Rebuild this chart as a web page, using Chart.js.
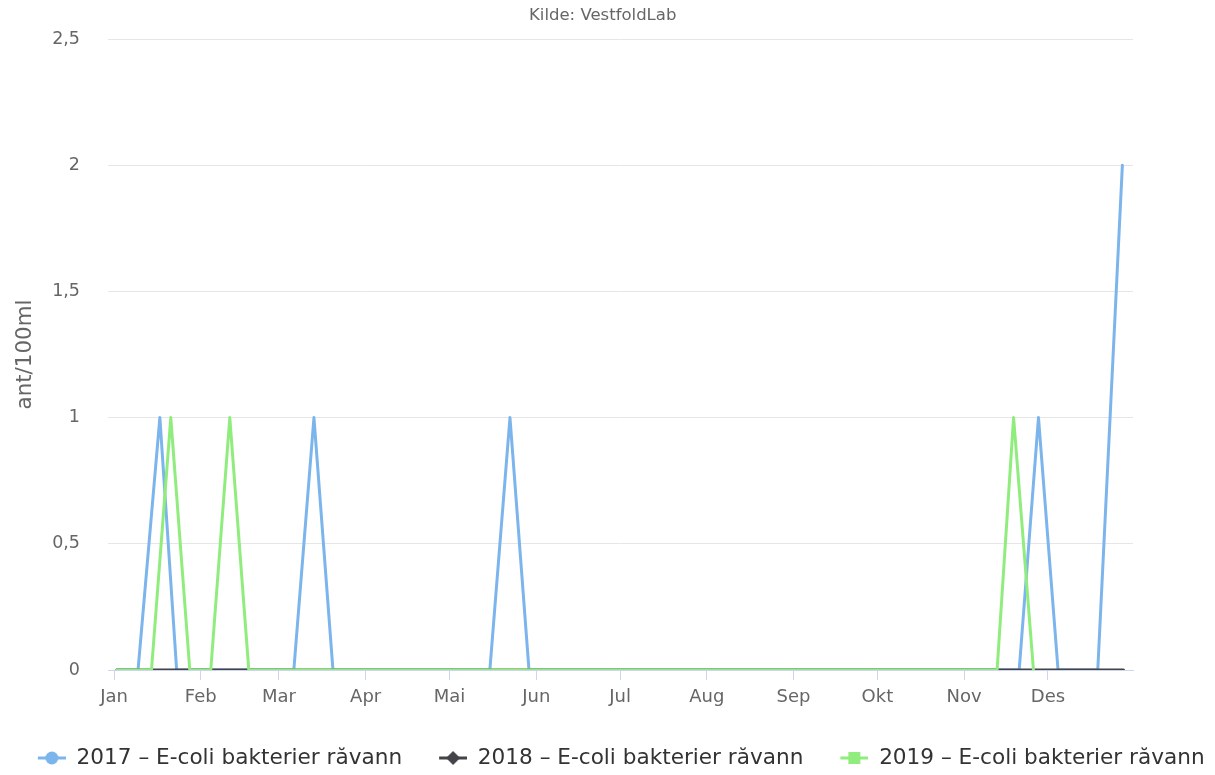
<!DOCTYPE html>
<html>
<head>
<meta charset="utf-8">
<script src="https://cdn.jsdelivr.net/npm/chart.js@4"></script>
<style>
  html, body { margin: 0; padding: 0; background: #fff; }
</style>
</head>
<body>
<canvas id="chart" width="1215" height="775"></canvas>
<script>
/* ── Data ── */
// x = dag i året (0 = 1. januar), y = ant/100ml
const MONTHS      = ['Jan','Feb','Mar','Apr','Mai','Jun','Jul','Aug','Sep','Okt','Nov','Des'];
const MONTH_START = [0, 31, 59, 90, 120, 151, 181, 212, 243, 273, 304, 334];

const DAYS_2017 = [1, 8.6, 16.4, 22.4, 64.3, 71.5, 78.3, 134.4, 141.6, 148.4, 323.7, 330.6, 337.6, 351.8, 360.6];
const VALS_2017 = [0, 0,   1,    0,    0,    1,    0,    0,     1,     0,     0,     1,     0,     0,     2];

const DAYS_2018 = [1, 361];
const VALS_2018 = [0, 0];

const DAYS_2019 = [1, 13.4, 20.3, 27.1, 34.6, 41.4, 48.2, 315.8, 321.7, 328.8];
const VALS_2019 = [0, 0,    1,    0,    0,    1,    0,    0,     1,     0];

const SERIES_NAMES = [
  '2017 – E-coli bakterier råvann',
  '2018 – E-coli bakterier råvann',
  '2019 – E-coli bakterier råvann',
];
const SOURCE_TEXT = 'Kilde: VestfoldLab';

const FONT = '"DejaVu Sans", sans-serif';

/* ── Helpers ── */
const toPoints = (days, vals) => days.map((d, i) => ({ x: d, y: vals[i] }));

// legend symbol: line with marker, drawn at the right end of a wider box
// (the empty left part gives the gap between legend items)
function legendMarker(color, shape) {
  const c = document.createElement('canvas');
  c.width = 65; c.height = 14;
  const g = c.getContext('2d');
  g.strokeStyle = color;
  g.lineWidth = 3;
  g.beginPath(); g.moveTo(37, 7); g.lineTo(65, 7); g.stroke();
  g.fillStyle = color;
  g.beginPath();
  if (shape === 'circle') g.arc(51, 7, 6.5, 0, Math.PI * 2);
  else if (shape === 'diamond') { g.moveTo(51, 0); g.lineTo(58, 7); g.lineTo(51, 14); g.lineTo(44, 7); g.closePath(); }
  else g.rect(45, 1, 12, 12);
  g.fill();
  return c;
}

function series(label, data, color, shape, order) {
  return {
    label, data, order,
    borderColor: color,
    backgroundColor: color,
    borderWidth: 3,
    borderJoinStyle: 'round',
    borderCapStyle: 'round',
    pointRadius: 0,
    pointHoverRadius: 0,
    pointStyle: legendMarker(color, shape),
    tension: 0,
    fill: false,
  };
}

/* ── Chart ── */
new Chart(document.getElementById('chart'), {
  type: 'line',
  data: {
    datasets: [
      series(SERIES_NAMES[0], toPoints(DAYS_2017, VALS_2017), '#7cb5ec', 'circle', 2),
      series(SERIES_NAMES[1], toPoints(DAYS_2018, VALS_2018), '#434348', 'diamond', 1),
      series(SERIES_NAMES[2], toPoints(DAYS_2019, VALS_2019), '#90ed7d', 'square', 0),
    ],
  },
  options: {
    responsive: false,
    animation: false,
    layout: { padding: { left: -2, right: 7.6, top: 0, bottom: -3.8 } },
    plugins: {
      title: {
        display: true,
        text: SOURCE_TEXT,
        color: '#666666',
        font: { family: FONT, size: 16.5, weight: 'normal' },
        padding: { top: 6.1, bottom: 13.1 },
      },
      legend: {
        position: 'bottom',
        labels: {
          usePointStyle: true,
          pointStyleWidth: 65,
          color: '#333333',
          font: { family: FONT, size: 21.6 },
          padding: 0,
          sort: (a, b) => a.datasetIndex - b.datasetIndex,
        },
      },
      tooltip: { enabled: false },
    },
    scales: {
      x: {
        type: 'linear',
        min: -2.15,
        max: 364.4,
        afterBuildTicks: s => { s.ticks = MONTH_START.map(v => ({ value: v })); },
        afterFit: s => { s.height = 77.2; },
        ticks: {
          autoSkip: false,
          maxRotation: 0,
          color: '#666666',
          font: { family: FONT, size: 18 },
          padding: 7,
          callback: (v, i) => MONTHS[i],
        },
        grid: { drawOnChartArea: false, drawTicks: true, tickLength: 10, tickColor: '#ccd6eb' },
        border: { color: '#ccd6eb', width: 1 },
      },
      y: {
        min: 0,
        max: 2.5,
        afterFit: s => { s.width = 110; },
        ticks: {
          stepSize: 0.5,
          color: '#666666',
          font: { family: FONT, size: 17.5 },
          padding: 28,
          callback: v => String(v).replace('.', ','),
        },
        grid: { color: '#e6e6e6', drawTicks: false },
        border: { display: false },
        title: {
          display: true,
          text: 'ant/100ml',
          color: '#666666',
          font: { family: FONT, size: 21.4 },
          padding: { top: 14.2, bottom: 0 },
        },
      },
      yRight: {
        position: 'right',
        afterFit: s => { s.width = 74.4; },
        ticks: { display: false },
        grid: { display: false },
        border: { display: false },
      },
    },
  },
});
</script>
</body>
</html>
